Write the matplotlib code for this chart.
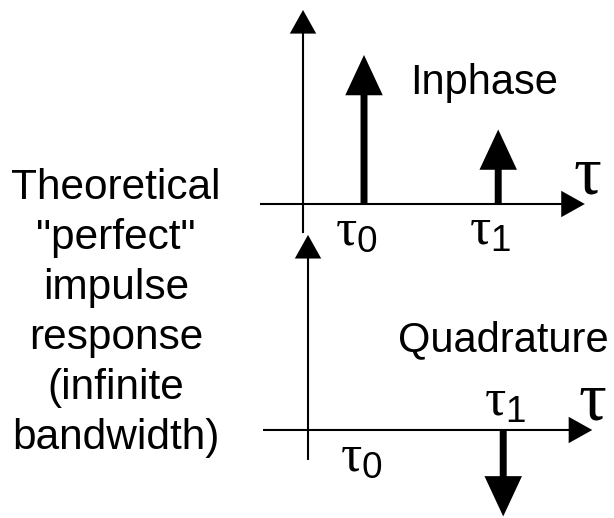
import matplotlib
matplotlib.use("Agg")
import matplotlib.pyplot as plt

# impulse positions (tau units) and amplitudes
tau_pos = [1.0, 3.2]
tau_labels = [r"$\tau_0$", r"$\tau_1$"]
inphase = [1.0, 0.5]
quadrature = [0.0, -0.58]

panel_names = ["Inphase", "Quadrature"]
side_text = 'Theoretical\n"perfect"\nimpulse\nresponse\n(infinite\nbandwidth)'


def draw_axes(ax, x0, x1, y0, y1):
    # horizontal and vertical axis with arrow heads
    style = "simple,head_length=1.7,head_width=1.9,tail_width=0.15"
    ax.annotate("", xy=(x1, 0), xytext=(x0, 0),
                arrowprops=dict(arrowstyle=style, color="k", shrinkA=0, shrinkB=0,
                                mutation_scale=10, lw=0))
    ax.annotate("", xy=(0, y1), xytext=(0, y0),
                arrowprops=dict(arrowstyle=style, color="k", shrinkA=0, shrinkB=0,
                                mutation_scale=10, lw=0))
    ax.text(4.66, 0.19, r"$\tau$", fontsize=50, ha="center", va="center")


def draw_impulses(ax, amps):
    style = "simple,head_length=2.9,head_width=2.7,tail_width=0.5"
    for t, a, lab in zip(tau_pos, amps, tau_labels):
        if a != 0:
            ax.annotate("", xy=(t, a), xytext=(t, 0),
                        arrowprops=dict(arrowstyle=style, color="k", shrinkA=0,
                                        shrinkB=0, mutation_scale=10, lw=0))
        if a >= 0:
            ax.annotate(lab, xy=(t, 0), xytext=(-6, -1), textcoords="offset points",
                        ha="center", va="top", fontsize=38)
        else:
            ax.annotate(lab, xy=(t, 0), xytext=(1, 2), textcoords="offset points",
                        ha="center", va="bottom", fontsize=38)


def main():
    plt.rcParams["font.family"] = "Liberation Sans"
    plt.rcParams["mathtext.fontset"] = "custom"
    plt.rcParams["mathtext.rm"] = "Liberation Sans"
    plt.rcParams["mathtext.it"] = "Liberation Serif"

    fig = plt.figure(figsize=(6.14, 5.18), dpi=100)

    # top panel: inphase
    ax1 = fig.add_axes([250 / 614, 1 - 240 / 518, 364 / 614, 240 / 518])
    ax1.set_xlim(-0.869, 5.098)
    ax1.set_ylim(-0.2416, 1.369)
    ax1.axis("off")
    draw_axes(ax1, -0.705, 4.62, -0.195, 1.302)
    draw_impulses(ax1, inphase)
    ax1.text(1.75, 0.81, panel_names[0], fontsize=30, ha="left", va="center")

    # bottom panel: quadrature
    ax2 = fig.add_axes([250 / 614, 0, 364 / 614, 288 / 518])
    ax2.set_xlim(-0.951, 5.016)
    ax2.set_ylim(-0.5906, 1.342)
    ax2.axis("off")
    draw_axes(ax2, -0.738, 4.66, -0.201, 1.309)
    draw_impulses(ax2, quadrature)
    ax2.text(1.475, 0.604, panel_names[1], fontsize=30, ha="left", va="center")

    fig.text(116 / 614, 1 - 313 / 518, side_text, fontsize=30.5, ha="center",
             va="center", multialignment="center", linespacing=1.32)

    fig.savefig("out.png", dpi=100)
    return


main()
